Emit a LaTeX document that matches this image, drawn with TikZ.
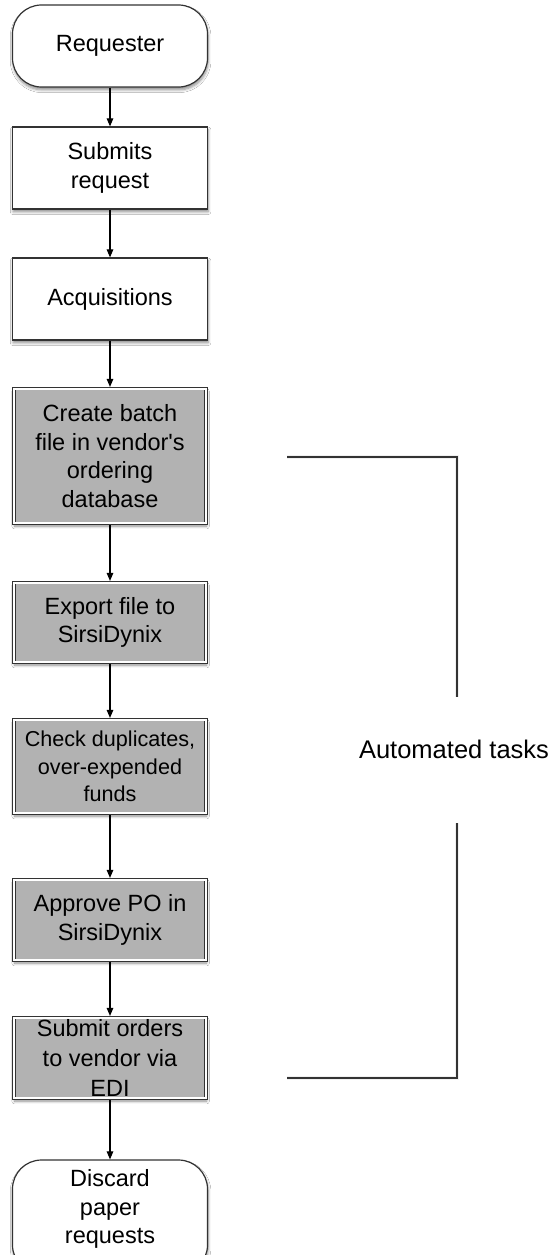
\documentclass[tikz,border=0pt]{standalone}
\usepackage{fontspec}
\setmainfont{Liberation Sans}
\usetikzlibrary{arrows.meta,shadows.blur}

\tikzset{
  soft/.style={blur shadow={shadow xshift=0.6pt, shadow yshift=-2.8pt,
      shadow blur radius=2.8pt, shadow blur steps=6, shadow opacity=45}},
  boxtext/.style={align=center, inner sep=0pt,
      font=\fontsize{23.5pt}{28.8pt}\selectfont, text=black},
  terminal/.style={boxtext, draw=black!80, line width=1.2pt, fill=white,
      rounded corners=29pt, minimum width=195pt, soft},
  plainbox/.style={boxtext, draw=black!80, line width=1.2pt, fill=white,
      minimum width=195pt, minimum height=82pt, soft},
  autobox/.style={boxtext, draw=black!80, line width=0.9pt, double=white,
      double distance=1.6pt, fill=black!30, minimum width=192pt,
      outer sep=1.8pt, soft},
  flow/.style={draw=black, line width=1.1pt,
      -{Triangle[length=8pt,width=6.5pt]}},
  brace/.style={draw=black!80, line width=1.3pt},
  braceshade/.style={draw=black, line width=4pt, opacity=0.06}
}

\begin{document}
\begin{tikzpicture}[x=1pt,y=-1pt]
  \useasboundingbox (0,0) rectangle (553,1255);
  \fill[white] (0,0) rectangle (553,1255);

  % main flow
  \node[terminal, minimum height=82pt] (req) at (110,46) {Requester};
  \node[plainbox] (sub) at (110,168) {Submits\\request};
  \node[plainbox] (acq) at (110,299) {Acquisitions};
  \node[autobox, minimum height=134.5pt] (batch) at (110,456)
    {Create batch\\file in vendor\textquotesingle s\\ordering\\database};
  \node[autobox, minimum height=79.5pt] (export) at (110,622.5)
    {Export file to\\SirsiDynix};
  \node[autobox, minimum height=93.5pt,
        font=\fontsize{21.6pt}{27.6pt}\selectfont] (check) at (110,766.5)
    {Check duplicates,\\over-expended\\funds};
  \node[autobox, minimum height=80.5pt] (approve) at (110,920)
    {Approve PO in\\SirsiDynix};
  \node[autobox, minimum height=80.5pt,
        font=\fontsize{23.5pt}{30pt}\selectfont] (edi) at (110,1058)
    {Submit orders\\to vendor via\\EDI};
  \node[terminal, minimum height=114pt] (discard) at (110,1217) {};
  \node[boxtext] (discardtext) at (110,1209) {Discard\\paper\\requests};

  \draw[flow] (req) -- (sub);
  \draw[flow] (sub) -- (acq);
  \draw[flow] (acq) -- (batch);
  \draw[flow] (batch) -- (export);
  \draw[flow] (export) -- (check);
  \draw[flow] (check) -- (approve);
  \draw[flow] (approve) -- (edi);
  \draw[flow] (edi) -- (discard);

  % bracket around the automated steps
  \coordinate (bt1) at (287,457);
  \coordinate (bt2) at (457,457);
  \coordinate (bt3) at (457,697);
  \coordinate (bb1) at (457,823);
  \coordinate (bb2) at (457,1078);
  \coordinate (bb3) at (287,1078);
  \node[font=\fontsize{25.5pt}{30pt}\selectfont, text=black, inner sep=0pt]
    (auto) at (454,749) {Automated tasks};

  \begin{scope}[shift={(0.8,3)}]
    \draw[braceshade] (bt1) -- (bt2) -- (bt3);
    \draw[braceshade] (bb1) -- (bb2) -- (bb3);
  \end{scope}
  \draw[brace] (bt1) -- (bt2) -- (bt3);
  \draw[brace] (bb1) -- (bb2) -- (bb3);
\end{tikzpicture}
\end{document}
